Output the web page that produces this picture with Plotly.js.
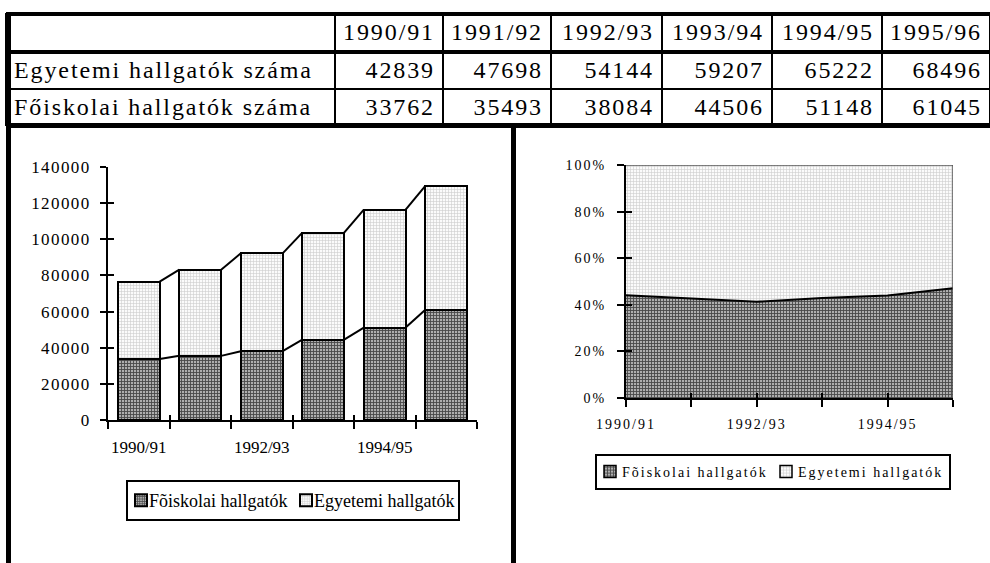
<!DOCTYPE html>
<html>
<head>
<meta charset="utf-8">
<script src="https://cdn.plot.ly/plotly-3.0.1.min.js"></script>
<style>
  html, body { margin: 0; padding: 0; background: #fff; }
  #chart { width: 990px; height: 563px; }
  .cell-text { letter-spacing: 1.9px; }
  .ytick text { letter-spacing: 1.4px; }
  .x2tick text, .y2tick text { letter-spacing: 2px; }
  .legendpoints { transform: translateX(-7px); }
  .legendtext { transform: translateX(-19px); }
  .legend2text { letter-spacing: 2px; transform: translateX(-15px); }
  .legendlines { display: none; }
  .legendfill path { d: path("M7,6H19V-6H7Z"); stroke: #000 !important; stroke-width: 1.5px !important; }
</style>
</head>
<body>
<div id="chart"></div>
<script>
// ---- data ----
const categories = ['1990/91', '1991/92', '1992/93', '1993/94', '1994/95', '1995/96'];
const egyetemi = [42839, 47698, 54144, 59207, 65222, 68496];
const foiskolai = [33762, 35493, 38084, 44506, 51148, 61045];
const tableRowNames = ['Egyetemi hallgatók száma', 'Főiskolai hallgatók száma'];
const legendNames = ['Fõiskolai hallgatók', 'Egyetemi hallgatók'];

// ---- helpers (layout only) ----
const W = 990, H = 563;
const fx = p => p / W;
const fy = p => 1 - p / H;
const serif = 'Liberation Serif, Times New Roman, serif';
const idx = categories.map((_, i) => i);
const totals = idx.map(i => egyetemi[i] + foiskolai[i]);
const barW = 0.68, hw = barW / 2;

const darkPattern = { shape: '+', fgcolor: '#474747', bgcolor: '#aeaeae', size: 3, solidity: 0.5 };
const lightPattern = { shape: '+', fgcolor: '#cdcdcd', bgcolor: '#fbfbfb', size: 3, solidity: 0.35 };

function seriesLine(vals) {
  const xs = [], ys = [];
  for (let i = 0; i < vals.length - 1; i++) {
    xs.push(i + hw, i + 1 - hw, null);
    ys.push(vals[i], vals[i + 1], null);
  }
  return { type: 'scatter', mode: 'lines', x: xs, y: ys, xaxis: 'x', yaxis: 'y',
           line: { color: '#000', width: 2 }, showlegend: false, hoverinfo: 'skip' };
}

const traces = [
  // table
  {
    type: 'table',
    domain: { x: [fx(6), 1], y: [fy(126), fy(14)] },
    columnwidth: [329, 108, 108, 111, 110, 110, 108],
    header: {
      values: [['']].concat(categories.map(c => [c])),
      align: ['left'].concat(categories.map(() => 'right')),
      height: 38,
      font: { family: serif, size: 24, color: '#000' },
      fill: { color: '#fff' },
      line: { color: '#000', width: 2 }
    },
    cells: {
      values: [tableRowNames].concat(idx.map(i => [egyetemi[i], foiskolai[i]])),
      align: ['left'].concat(categories.map(() => 'right')),
      height: 37,
      font: { family: serif, size: 24, color: '#000' },
      fill: { color: '#fff' },
      line: { color: '#000', width: 2 }
    }
  },
  // left stacked bars
  {
    type: 'bar', name: legendNames[0], x: idx, y: foiskolai, width: barW,
    xaxis: 'x', yaxis: 'y', legend: 'legend', hovertext: categories,
    marker: { color: '#aeaeae', pattern: darkPattern, line: { color: '#000', width: 2 } }
  },
  {
    type: 'bar', name: legendNames[1], x: idx, y: egyetemi, width: barW,
    xaxis: 'x', yaxis: 'y', legend: 'legend', hovertext: categories,
    marker: { color: '#fbfbfb', pattern: lightPattern, line: { color: '#000', width: 2 } }
  },
  seriesLine(foiskolai),
  seriesLine(totals),
  // overlay axes carrying the inward half of the crossing ticks
  { type: 'scatter', x: [], y: [], xaxis: 'x3', yaxis: 'y3', showlegend: false, hoverinfo: 'skip' },
  // right 100% stacked area
  {
    type: 'scatter', mode: 'lines', name: legendNames[0], x: idx, y: foiskolai,
    xaxis: 'x2', yaxis: 'y2', legend: 'legend2', stackgroup: 'pct', groupnorm: 'percent',
    line: { color: '#000', width: 2 }, fillcolor: '#aeaeae', fillpattern: darkPattern, hovertext: categories
  },
  {
    type: 'scatter', mode: 'lines', name: legendNames[1], x: idx, y: egyetemi,
    xaxis: 'x2', yaxis: 'y2', legend: 'legend2', stackgroup: 'pct',
    line: { color: '#555', width: 1.5 }, fillcolor: '#fbfbfb', fillpattern: lightPattern, hovertext: categories
  },
  { type: 'scatter', x: [], y: [], xaxis: 'x4', yaxis: 'y4', showlegend: false, hoverinfo: 'skip' }
];

const boundaries = [-0.5].concat(idx.map(i => i + 0.5));
const leftDomX = [fx(108), fx(477)], leftDomY = [fy(420), fy(167)];
const rightDomX = [fx(626), fx(953)], rightDomY = [fy(398), fy(165)];
const axFont = { family: serif, size: 17, color: '#000' };
const axFontR = { family: serif, size: 14, color: '#000' };

const layout = {
  width: W, height: H,
  margin: { l: 0, r: 0, t: 0, b: 0, pad: 0 },
  paper_bgcolor: '#fff', plot_bgcolor: 'rgba(0,0,0,0)',
  barmode: 'stack', bargap: 0,
  font: { family: serif, color: '#000' },
  xaxis: {
    domain: leftDomX, anchor: 'y', range: [-0.5, 5.5], fixedrange: true,
    tickmode: 'array', tickvals: [0, 2, 4], ticktext: [0, 2, 4].map(i => categories[i]),
    ticks: '', ticklabelstandoff: 11, tickfont: axFont,
    minor: { tickmode: 'array', tickvals: boundaries, ticks: 'outside', ticklen: 7, tickwidth: 2, tickcolor: '#000', showgrid: false },
    showline: true, linecolor: '#000', linewidth: 2, showgrid: false, zeroline: false
  },
  xaxis3: {
    domain: leftDomX, anchor: 'y', overlaying: 'x', range: [-0.5, 5.5], fixedrange: true,
    tickmode: 'array', tickvals: boundaries, ticks: 'inside', ticklen: 5, tickwidth: 2, tickcolor: '#000',
    showticklabels: false, showline: false, showgrid: false, zeroline: false
  },
  yaxis: {
    domain: leftDomY, anchor: 'x', range: [0, 140000], fixedrange: true,
    tickmode: 'linear', tick0: 0, dtick: 20000, tickformat: 'd',
    ticks: 'outside', ticklen: 6, tickwidth: 2, tickcolor: '#000', ticklabelstandoff: 6,
    tickfont: axFont, showline: true, linecolor: '#000', linewidth: 2, showgrid: false, zeroline: false
  },
  yaxis3: {
    domain: leftDomY, anchor: 'x', overlaying: 'y', range: [0, 140000], fixedrange: true,
    tickmode: 'linear', tick0: 0, dtick: 20000, ticks: 'inside', ticklen: 6, tickwidth: 2, tickcolor: '#000',
    showticklabels: false, showline: false, showgrid: false, zeroline: false
  },
  xaxis2: {
    domain: rightDomX, anchor: 'y2', range: [0, 5], fixedrange: true,
    tickmode: 'array', tickvals: idx, ticktext: categories.map((c, i) => i % 2 === 0 ? c : ''),
    ticks: 'outside', ticklen: 7, tickwidth: 2, tickcolor: '#000', ticklabelstandoff: 5, tickfont: axFontR,
    showline: true, linecolor: '#000', linewidth: 2, showgrid: false, zeroline: false
  },
  xaxis4: {
    domain: rightDomX, anchor: 'y2', overlaying: 'x2', range: [0, 5], fixedrange: true,
    tickmode: 'array', tickvals: idx, ticks: 'inside', ticklen: 5, tickwidth: 2, tickcolor: '#000',
    showticklabels: false, showline: false, showgrid: false, zeroline: false
  },
  yaxis2: {
    domain: rightDomY, anchor: 'x2', range: [0, 100], fixedrange: true,
    tickmode: 'linear', tick0: 0, dtick: 20, ticksuffix: '%',
    ticks: 'outside', ticklen: 7, tickwidth: 2, tickcolor: '#000', ticklabelstandoff: 8, tickfont: axFontR,
    showline: true, linecolor: '#000', linewidth: 2, showgrid: false, zeroline: false
  },
  yaxis4: {
    domain: rightDomY, anchor: 'x2', overlaying: 'y2', range: [0, 100], fixedrange: true,
    tickmode: 'linear', tick0: 0, dtick: 20, ticks: 'inside', ticklen: 6, tickwidth: 2, tickcolor: '#000',
    showticklabels: false, showline: false, showgrid: false, zeroline: false
  },
  legend: {
    orientation: 'h', traceorder: 'normal', x: fx(126), y: fy(480), xanchor: 'left', yanchor: 'top',
    bordercolor: '#000', borderwidth: 2, bgcolor: '#fff', font: { family: serif, size: 18, color: '#000' },
    itemwidth: 30, entrywidth: 120, entrywidthmode: 'pixels', itemclick: false, itemdoubleclick: false
  },
  legend2: {
    orientation: 'h', traceorder: 'normal', x: fx(595), y: fy(454), xanchor: 'left', yanchor: 'top',
    bordercolor: '#000', borderwidth: 2, bgcolor: '#fff', font: { family: serif, size: 14, color: '#000' },
    itemwidth: 30, entrywidth: 131, entrywidthmode: 'pixels', itemclick: false, itemdoubleclick: false
  },
  shapes: [
    // table thick borders
    { type: 'line', xref: 'paper', yref: 'paper', x0: fx(6), x1: 1, y0: fy(14), y1: fy(14), line: { color: '#000', width: 4 } },
    { type: 'line', xref: 'paper', yref: 'paper', x0: fx(6), x1: 1, y0: fy(52), y1: fy(52), line: { color: '#000', width: 4 } },
    { type: 'line', xref: 'paper', yref: 'paper', x0: fx(6), x1: 1, y0: fy(125.5), y1: fy(125.5), line: { color: '#000', width: 5 } },
    // frame verticals
    { type: 'line', xref: 'paper', yref: 'paper', x0: fx(8.5), x1: fx(8.5), y0: fy(12), y1: 0, line: { color: '#000', width: 5 } },
    { type: 'line', xref: 'paper', yref: 'paper', x0: fx(513.5), x1: fx(513.5), y0: fy(125), y1: 0, line: { color: '#000', width: 5 } },
    // right edge of 100% area plot
    { type: 'line', xref: 'x2', yref: 'y2', x0: 5, x1: 5, y0: 0, y1: 100, line: { color: '#555', width: 1.5 } }
  ]
};

Plotly.newPlot('chart', traces, layout, { staticPlot: true, displayModeBar: false });
</script>
</body>
</html>
